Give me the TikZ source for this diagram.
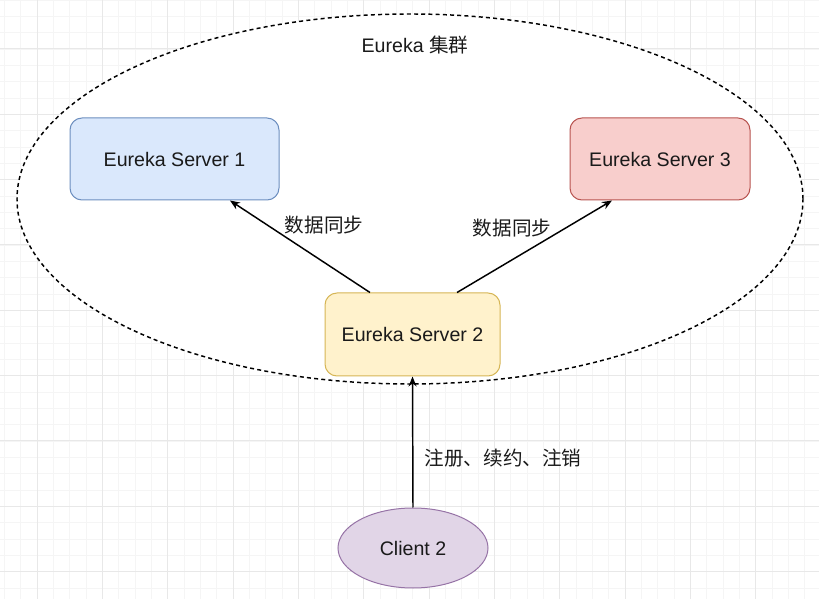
\documentclass[tikz,border=0pt]{standalone}
\usepackage{fontspec}
\setmainfont{Liberation Sans}
\newfontfamily\cjk{Noto Sans CJK SC}
\usepackage{xcolor}
\usetikzlibrary{arrows.meta, shapes.geometric}

\definecolor{blueFill}{HTML}{DAE8FC}
\definecolor{blueLine}{HTML}{6C8EBF}
\definecolor{redFill}{HTML}{F8CECC}
\definecolor{redLine}{HTML}{B85450}
\definecolor{yellowFill}{HTML}{FFF2CC}
\definecolor{yellowLine}{HTML}{D6B656}
\definecolor{purpleFill}{HTML}{E1D5E7}
\definecolor{purpleLine}{HTML}{9673A6}
\definecolor{inkText}{HTML}{1A1A1A}

\begin{document}
\begin{tikzpicture}[
  x=0.75pt, y=-0.75pt,
  >={Stealth[length=7.5pt, width=6pt]},
  every node/.style={font=\fontsize{14.7}{17}\selectfont, text=inkText}
]
\tikzset{
  minorgrid/.style={draw=black!4, line width=0.5pt},
  majorgrid/.style={draw=black!9, line width=0.75pt},
  server/.style   ={draw, line width=0.75pt, rounded corners=9pt,
                    align=center, inner sep=2pt, minimum height=61.5pt},
  client/.style   ={ellipse, draw=purpleLine, fill=purpleFill,
                    line width=0.75pt, minimum width=112.5pt,
                    minimum height=60pt, inner sep=0pt},
  cluster/.style  ={ellipse, draw=black, fill=white, line width=1.1pt,
                    dash pattern=on 3pt off 2.4pt,
                    minimum width=589.5pt, minimum height=277.5pt,
                    inner sep=0pt},
  arr/.style      ={->, line width=1.1pt, draw=black},
  lab/.style      ={inner sep=1pt}
}

\useasboundingbox (0,0) rectangle (819,599);

%% ----- Background grid -----
\begin{scope}
  \clip (0,0) rectangle (819,599);
  \fill[white] (0,0) rectangle (819,599);
  \foreach \i in {-2,...,48}
    \draw[minorgrid] ({37+16.333*\i},0) -- ++(0,599);
  \foreach \i in {-3,...,34}
    \draw[minorgrid] (0,{48.9+16.333*\i}) -- ++(819,0);
  \foreach \i in {0,...,12}
    \draw[majorgrid] ({37+65.333*\i},0) -- ++(0,599);
  \foreach \i in {0,...,8}
    \draw[majorgrid] (0,{48.9+65.333*\i}) -- ++(819,0);
\end{scope}

%% ----- Cluster -----
\node[cluster] (cluster) at (410,199) {};
\node[lab] (clusterlab) at (415,45) {Eureka {\cjk 集群}};

%% ----- Servers -----
\node[server, draw=blueLine, fill=blueFill, minimum width=156.75pt]
  (s1) at (174.5,159) {Eureka Server 1};
\node[server, draw=redLine, fill=redFill, minimum width=135pt]
  (s3) at (660,159) {Eureka Server 3};
\node[server, draw=yellowLine, fill=yellowFill, minimum width=131.25pt,
  minimum height=62.25pt]
  (s2) at (412.5,334.5) {Eureka Server 2};

%% ----- Client -----
\node[client] (client) at (413,548) {Client 2};

%% ----- Sync arrows -----
\draw[arr] ([xshift=-31.9pt]s2.north) -- ([xshift=41.6pt]s1.south);
\draw[arr] ([xshift=33.4pt]s2.north) -- ([xshift=-36pt]s3.south);
\node[lab] (sync1) at (324,225) {\cjk 数据同步};
\node[lab] (sync3) at (512,228) {\cjk 数据同步};

%% ----- Client -> Server 2 -----
\draw[arr] (client.north) -- (s2.south);
\node[lab] (reglab) at (503,458) {\cjk 注册、续约、注销};

\end{tikzpicture}
\end{document}
